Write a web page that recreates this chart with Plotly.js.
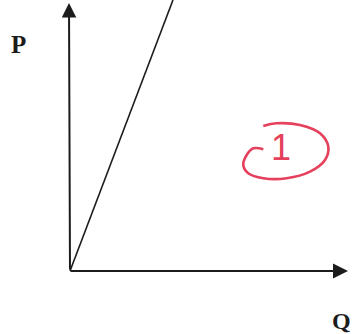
<!DOCTYPE html>
<html>
<head>
<meta charset="utf-8">
<script src="https://cdn.plot.ly/plotly-3.0.1.min.js"></script>
<style>html,body{margin:0;padding:0;background:#fff;}#chart{width:352px;height:334px;}</style>
</head>
<body>
<div id="chart"></div>
<script>
// Supply line from origin (Q on x, P on y)
var lineQ = [0, 1.03];
var lineP = [0, 2.71];
// axis arrow tips
var yAxisTip = [-0.01, 2.68];
var xAxisTip = [2.78, 0];
// labels
var yLabel = 'P';
var xLabel = 'Q';
var markLabel = '1';
// hand-drawn red loop around the mark
var loopX = [1.933,1.833,1.767,1.733,1.783,1.933,2.167,2.40,2.55,2.583,2.50,2.30,2.067,1.933];
var loopY = [1.217,1.227,1.16,1.06,0.977,0.927,0.927,0.993,1.11,1.243,1.377,1.46,1.477,1.45];

var ink = '#1c1c1c';
var red = '#e5405c';

var traces = [
  {x: lineQ, y: lineP, mode: 'lines', line: {color: ink, width: 1.6}, hoverinfo: 'skip'},
  {x: loopX, y: loopY, mode: 'lines', line: {color: red, width: 2.6, shape: 'spline', smoothing: 1.1}, hoverinfo: 'skip'}
];

var layout = {
  width: 352, height: 334,
  margin: {l: 0, r: 0, t: 0, b: 0},
  paper_bgcolor: '#fff', plot_bgcolor: '#fff',
  showlegend: false,
  xaxis: {range: [-0.70, 2.82], visible: false, fixedrange: true},
  yaxis: {range: [-0.63, 2.71], visible: false, fixedrange: true},
  annotations: [
    {x: yAxisTip[0], y: yAxisTip[1], xref: 'x', yref: 'y', ax: 0, ay: 0, axref: 'x', ayref: 'y',
     text: '', showarrow: true, arrowhead: 2, arrowwidth: 2, arrowsize: 1.45, arrowcolor: ink, standoff: 0, startstandoff: 0},
    {x: xAxisTip[0], y: xAxisTip[1], xref: 'x', yref: 'y', ax: -0.01, ay: 0, axref: 'x', ayref: 'y',
     text: '', showarrow: true, arrowhead: 2, arrowwidth: 2, arrowsize: 1.5, arrowcolor: ink, standoff: 0, startstandoff: 0},
    {x: -0.52, y: 2.27, xref: 'x', yref: 'y', text: '<b>' + yLabel + '</b>', showarrow: false,
     font: {family: 'Liberation Serif', size: 25, color: ink}},
    {x: 2.71, y: -0.50, xref: 'x', yref: 'y', text: '<b>' + xLabel + '</b>', showarrow: false,
     font: {family: 'Liberation Serif', size: 24, color: ink}},
    {x: 2.11, y: 1.24, xref: 'x', yref: 'y', text: markLabel, showarrow: false,
     font: {family: 'Liberation Sans', size: 36, color: red}}
  ]
};

Plotly.newPlot('chart', traces, layout, {staticPlot: true, displayModeBar: false});
</script>
</body>
</html>
